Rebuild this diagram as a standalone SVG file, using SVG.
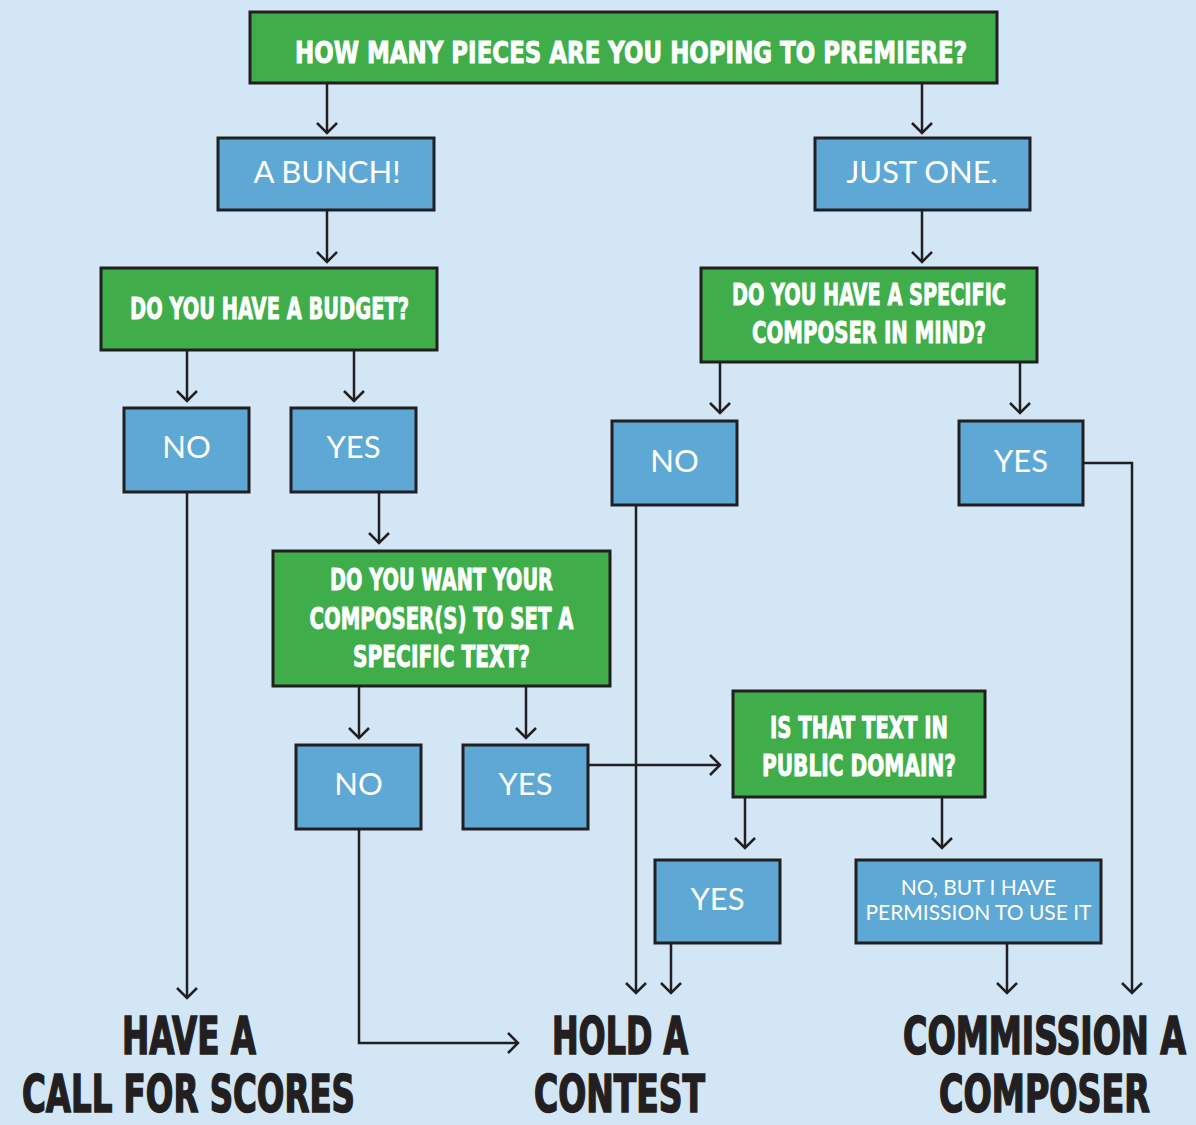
<svg xmlns="http://www.w3.org/2000/svg" width="1196" height="1125" viewBox="0 0 1196 1125">
<defs>
<marker id="ah" markerUnits="userSpaceOnUse" markerWidth="26" markerHeight="26" viewBox="-13 -13 26 26" refX="0" refY="0" orient="auto">
<path d="M-10,-10 L0,0 L-10,10" fill="none" stroke="#231f20" stroke-width="2.5"/>
</marker>
<style>
.g{fill:#3fae4a;stroke:#231f20;stroke-width:3}
.b{fill:#5ea8d5;stroke:#231f20;stroke-width:3}
.q{font-family:"DejaVu Sans","Liberation Sans",sans-serif;font-weight:bold;font-stretch:condensed;fill:#ffffff;stroke:#ffffff;stroke-width:0.9;text-anchor:middle;font-size:30px}
.a{font-family:Lato,"Liberation Sans",sans-serif;fill:#ffffff;text-anchor:middle;font-size:31px}
.s{font-family:Lato,"Liberation Sans",sans-serif;fill:#ffffff;text-anchor:middle;font-size:21px}
.r{font-family:"DejaVu Sans","Liberation Sans",sans-serif;font-weight:bold;font-stretch:condensed;fill:#231f20;stroke:#231f20;stroke-width:1.6;text-anchor:middle;font-size:51px}
.c{fill:none;stroke:#231f20;stroke-width:2.5}
</style>
</defs>
<rect width="1196" height="1125" fill="#d2e6f6"/>
<g id="connectors" class="c">
<path d="M327,83 V133" marker-end="url(#ah)"/>
<path d="M922,83 V133" marker-end="url(#ah)"/>
<path d="M327,210 V262" marker-end="url(#ah)"/>
<path d="M922,210 V262" marker-end="url(#ah)"/>
<path d="M187,350 V401" marker-end="url(#ah)"/>
<path d="M354,350 V401" marker-end="url(#ah)"/>
<path d="M720,362 V413" marker-end="url(#ah)"/>
<path d="M1020,362 V413" marker-end="url(#ah)"/>
<path d="M187,492 V998" marker-end="url(#ah)"/>
<path d="M379,492 V543" marker-end="url(#ah)"/>
<path d="M636,505 V993" marker-end="url(#ah)"/>
<path d="M1083,463 H1132 V993" marker-end="url(#ah)"/>
<path d="M359,686 V738" marker-end="url(#ah)"/>
<path d="M526,686 V738" marker-end="url(#ah)"/>
<path d="M588,765 H720" marker-end="url(#ah)"/>
<path d="M745,797 V848" marker-end="url(#ah)"/>
<path d="M942,797 V848" marker-end="url(#ah)"/>
<path d="M671,943 V993" marker-end="url(#ah)"/>
<path d="M1007,943 V993" marker-end="url(#ah)"/>
<path d="M359,829 V1043 H518" marker-end="url(#ah)"/>
</g>
<g id="q-pieces"><rect class="g" x="250" y="12" width="747" height="71"/><text class="q" transform="translate(631,63) scale(0.64,1)" font-size="36" textLength="1050" lengthAdjust="spacingAndGlyphs">HOW MANY PIECES ARE YOU HOPING TO PREMIERE?</text></g>
<g id="a-bunch"><rect class="b" x="218" y="138" width="216" height="72"/><text class="a" x="327" y="183">A BUNCH!</text></g>
<g id="a-one"><rect class="b" x="815" y="138" width="215" height="72"/><text class="a" x="922" y="183">JUST ONE.</text></g>
<g id="q-budget"><rect class="g" x="101" y="268" width="336" height="82"/><text class="q" transform="translate(269.5,319) scale(0.72,1)" textLength="387.5" lengthAdjust="spacingAndGlyphs">DO YOU HAVE A BUDGET?</text></g>
<g id="q-composer"><rect class="g" x="701" y="268" width="336" height="94"/><text class="q" transform="translate(869,305) scale(0.72,1)" textLength="380.6" lengthAdjust="spacingAndGlyphs">DO YOU HAVE A SPECIFIC</text><text class="q" transform="translate(869,343) scale(0.72,1)" textLength="325" lengthAdjust="spacingAndGlyphs">COMPOSER IN MIND?</text></g>
<g id="budget-no"><rect class="b" x="124" y="408" width="125" height="84"/><text class="a" x="186.5" y="458">NO</text></g>
<g id="budget-yes"><rect class="b" x="291" y="408" width="125" height="84"/><text class="a" x="353.5" y="458">YES</text></g>
<g id="composer-no"><rect class="b" x="612" y="421" width="125" height="84"/><text class="a" x="674.5" y="472">NO</text></g>
<g id="composer-yes"><rect class="b" x="959" y="421" width="124" height="84"/><text class="a" x="1021" y="472">YES</text></g>
<g id="q-text"><rect class="g" x="273" y="551" width="337" height="135"/><text class="q" transform="translate(441.5,590) scale(0.72,1)" textLength="309.7" lengthAdjust="spacingAndGlyphs">DO YOU WANT YOUR</text><text class="q" transform="translate(441.5,629) scale(0.72,1)" textLength="366.7" lengthAdjust="spacingAndGlyphs">COMPOSER(S) TO SET A</text><text class="q" transform="translate(441.5,667) scale(0.72,1)" textLength="245.8" lengthAdjust="spacingAndGlyphs">SPECIFIC TEXT?</text></g>
<g id="text-no"><rect class="b" x="296" y="745" width="125" height="84"/><text class="a" x="358.5" y="795">NO</text></g>
<g id="text-yes"><rect class="b" x="463" y="745" width="125" height="84"/><text class="a" x="525.5" y="795">YES</text></g>
<g id="q-public"><rect class="g" x="733" y="691" width="252" height="106"/><text class="q" transform="translate(859,738) scale(0.72,1)" textLength="247.2" lengthAdjust="spacingAndGlyphs">IS THAT TEXT IN</text><text class="q" transform="translate(859,776) scale(0.72,1)" textLength="269.4" lengthAdjust="spacingAndGlyphs">PUBLIC DOMAIN?</text></g>
<g id="public-yes"><rect class="b" x="655" y="860" width="125" height="83"/><text class="a" x="717.5" y="910">YES</text></g>
<g id="public-permission"><rect class="b" x="856" y="860" width="245" height="83"/><text class="s" x="978.5" y="895">NO, BUT I HAVE</text><text class="s" x="978.5" y="920">PERMISSION TO USE IT</text></g>
<g id="r-call"><text class="r" transform="translate(189,1054) scale(0.7,1)" textLength="191.4" lengthAdjust="spacingAndGlyphs">HAVE A</text><text class="r" transform="translate(188.5,1112) scale(0.7,1)" textLength="475.7" lengthAdjust="spacingAndGlyphs">CALL FOR SCORES</text></g>
<g id="r-contest"><text class="r" transform="translate(620,1054) scale(0.7,1)" textLength="194.3" lengthAdjust="spacingAndGlyphs">HOLD A</text><text class="r" transform="translate(619.5,1112) scale(0.7,1)" textLength="244.3" lengthAdjust="spacingAndGlyphs">CONTEST</text></g>
<g id="r-commission"><text class="r" transform="translate(1044.5,1054) scale(0.7,1)" textLength="404.3" lengthAdjust="spacingAndGlyphs">COMMISSION A</text><text class="r" transform="translate(1044.5,1112) scale(0.7,1)" textLength="301.4" lengthAdjust="spacingAndGlyphs">COMPOSER</text></g>
</svg>
